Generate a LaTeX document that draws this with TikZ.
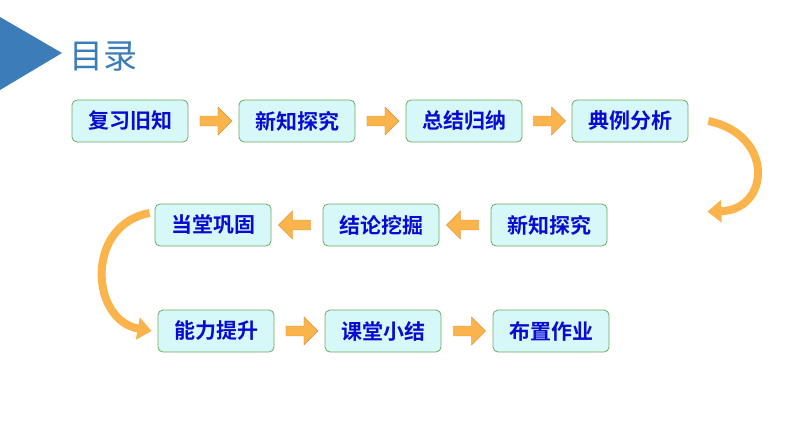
\documentclass[tikz,border=0pt]{standalone}
\usepackage{fontspec}
\newfontfamily\cjk[BoldFont={Noto Sans CJK SC Bold}]{Noto Sans CJK SC}
\usepackage{tikz}
\usetikzlibrary{shapes.arrows,arrows.meta,calc}
\definecolor{boxFill}{RGB}{215,248,248}
\definecolor{boxLine}{RGB}{110,170,90}
\definecolor{txtBlue}{RGB}{10,10,210}
\definecolor{arrFill}{RGB}{250,180,75}
\definecolor{arrLine}{RGB}{225,140,50}
\definecolor{titleBlue}{RGB}{60,125,185}
\tikzstyle{block} = [draw=boxLine,thick,rectangle,rounded corners=5pt,fill=boxFill,minimum width=116pt,minimum height=42pt,font=\cjk\bfseries\fontsize{21}{24}\selectfont,text=txtBlue]
\tikzstyle{fatArrow} = [single arrow,draw=arrLine,fill=arrFill,minimum height=32pt,minimum width=28pt,single arrow head extend=4pt,inner sep=2pt]
\tikzstyle{bendArrow} = [draw=arrFill,line width=8pt,-{Triangle[length=14pt,width=22pt]}]
\begin{document}
\begin{tikzpicture}[x=1pt,y=-1pt]
		\useasboundingbox (0,0) rectangle (794,447);
		\fill[titleBlue] (0,17) -- (62,53) -- (0,90) -- cycle;
		\node[anchor=west,text=titleBlue,font=\cjk\fontsize{34}{36}\selectfont](title) at (66,56){目录};
		%row 1
		\node[block](review) at (130,121){复习旧知};
		\node[block](explore) at (297,121){新知探究};
		\node[block](summary) at (464,121){总结归纳};
		\node[block](example) at (630,121){典例分析};
		%row 2
		\node[block](explore2) at (549,225){新知探究};
		\node[block](dig) at (381,225){结论挖掘};
		\node[block](consolidate) at (213,225){当堂巩固};
		%row 3
		\node[block](ability) at (216,331){能力提升};
		\node[block](recap) at (383,331){课堂小结};
		\node[block](homework) at (551,331){布置作业};
		%arrows
		\node[fatArrow] at ($(review.east)!0.5!(explore.west)$){};
		\node[fatArrow] at ($(explore.east)!0.5!(summary.west)$){};
		\node[fatArrow] at ($(summary.east)!0.5!(example.west)$){};
		\node[fatArrow,shape border rotate=180] at ($(explore2.west)!0.5!(dig.east)$){};
		\node[fatArrow,shape border rotate=180] at ($(dig.west)!0.5!(consolidate.east)$){};
		\node[fatArrow] at ($(ability.east)!0.5!(recap.west)$){};
		\node[fatArrow] at ($(recap.east)!0.5!(homework.west)$){};
		\path[bendArrow] ($(example.east)+(20,0)$) .. controls (775,135) and (770,210) .. ($(explore2.north east)+(100,8)$);
		\path[bendArrow] ($(consolidate.west)+(-5,-12)$) .. controls (85,225) and (90,320) .. ($(ability.west)+(-6,0)$);
	\end{tikzpicture}
\end{document}
